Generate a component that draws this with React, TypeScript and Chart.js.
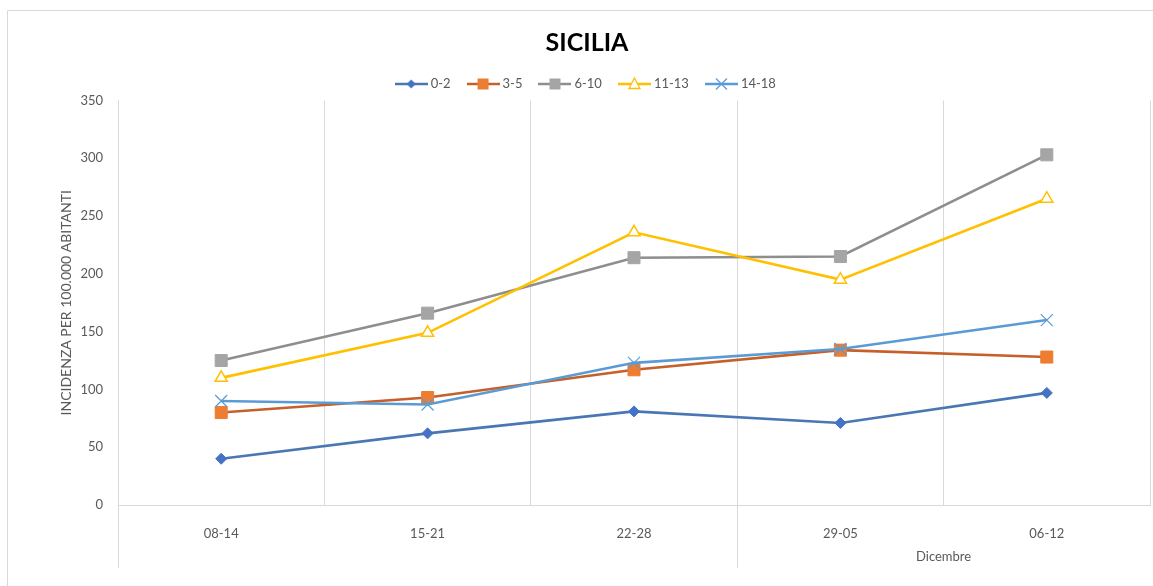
import React, { useEffect, useRef } from 'react';
import { Chart, registerables } from 'chart.js';

Chart.register(...registerables);

// ---- Data ----
const categories = ['08-14', '15-21', '22-28', '29-05', '06-12'];
const groupLabels = ['', 'Dicembre'];
const groupStarts = [0, 3];
const seriesNames = ['0-2', '3-5', '6-10', '11-13', '14-18'];
const age0to2 = [40, 62, 81, 71, 97];
const age3to5 = [80, 93, 117, 134, 128];
const age6to10 = [125, 166, 214, 215, 303];
const age11to13 = [110, 149, 236, 195, 265];
const age14to18 = [90, 87, 123, 135, 160];
const yMin = 0;
const yMax = 350;
const yStep = 50;
const chartTitle = 'SICILIA';
const yTitle = 'INCIDENZA PER 100.000 ABITANTI';

const FONT = 'Lato';
const TEXT = '#595959';
const GRID = '#d9d9d9';

type Marker = 'diamond' | 'square' | 'triangle' | 'cross';

function makeLegendIcon(lineColor: string, marker: Marker, fill: string, stroke: string) {
  const c = document.createElement('canvas');
  c.width = 33;
  c.height = 16;
  const ctx = c.getContext('2d')!;
  const cx = 16.5;
  const cy = 8;
  ctx.strokeStyle = lineColor;
  ctx.lineWidth = 2.5;
  ctx.beginPath();
  ctx.moveTo(0, cy);
  ctx.lineTo(33, cy);
  ctx.stroke();
  ctx.fillStyle = fill;
  ctx.strokeStyle = stroke;
  if (marker === 'diamond') {
    const r = 4.5;
    ctx.beginPath();
    ctx.moveTo(cx - r, cy);
    ctx.lineTo(cx, cy - r);
    ctx.lineTo(cx + r, cy);
    ctx.lineTo(cx, cy + r);
    ctx.closePath();
    ctx.fill();
  } else if (marker === 'square') {
    ctx.fillRect(cx - 5.5, cy - 5.5, 11, 11);
  } else if (marker === 'triangle') {
    ctx.lineWidth = 1.3;
    ctx.beginPath();
    ctx.moveTo(cx, cy - 6);
    ctx.lineTo(cx + 5.5, cy + 4.5);
    ctx.lineTo(cx - 5.5, cy + 4.5);
    ctx.closePath();
    ctx.fillStyle = '#ffffff';
    ctx.fill();
    ctx.stroke();
  } else if (marker === 'cross') {
    ctx.lineWidth = 1.2;
    ctx.beginPath();
    ctx.moveTo(cx - 5.5, cy - 5.5);
    ctx.lineTo(cx + 5.5, cy + 5.5);
    ctx.moveTo(cx + 5.5, cy - 5.5);
    ctx.lineTo(cx - 5.5, cy + 5.5);
    ctx.stroke();
  }
  return c;
}

const framePlugin = {
  id: 'frame',
  beforeDraw(chart: any) {
    const ctx = chart.ctx;
    ctx.save();
    ctx.fillStyle = '#ffffff';
    ctx.fillRect(0, 0, chart.width, chart.height);
    ctx.strokeStyle = GRID;
    ctx.lineWidth = 1;
    ctx.beginPath();
    ctx.moveTo(7.5, chart.height);
    ctx.lineTo(7.5, 10.5);
    ctx.lineTo(chart.width, 10.5);
    ctx.stroke();
    ctx.restore();
  },
  afterDraw(chart: any) {
    const ctx = chart.ctx;
    const xs = chart.scales.x;
    const top = chart.chartArea.bottom;
    const bottom = xs.bottom - 18;
    ctx.save();
    ctx.strokeStyle = GRID;
    ctx.lineWidth = 1;
    groupStarts.forEach((start) => {
      const px = Math.round(xs.getPixelForValue(start - 0.5)) + 0.5;
      ctx.beginPath();
      ctx.moveTo(px, top);
      ctx.lineTo(px, bottom);
      ctx.stroke();
    });
    ctx.fillStyle = TEXT;
    ctx.font = `13px ${FONT}`;
    ctx.textAlign = 'center';
    ctx.textBaseline = 'middle';
    groupLabels.forEach((label, i) => {
      if (!label) return;
      const s = groupStarts[i];
      const e = i + 1 < groupStarts.length ? groupStarts[i + 1] : categories.length;
      const x0 = xs.getPixelForValue(s - 0.5);
      const x1 = xs.getPixelForValue(e - 0.5);
      ctx.fillText(label, (x0 + x1) / 2, bottom - 11);
    });
    ctx.restore();
  },
};

export default function App() {
  const ref = useRef<HTMLCanvasElement>(null);

  useEffect(() => {
    if (!ref.current) return;
    const icons = [
      makeLegendIcon('#4a77b4', 'diamond', '#4472C4', '#4472C4'),
      makeLegendIcon('#c65f28', 'square', '#ED7D31', '#ED7D31'),
      makeLegendIcon('#8e8e8e', 'square', '#A5A5A5', '#A5A5A5'),
      makeLegendIcon('#FFC000', 'triangle', '#ffffff', '#FFC000'),
      makeLegendIcon('#5B9BD5', 'cross', '#5B9BD5', '#5B9BD5'),
    ];
    const chart = new Chart(ref.current, {
      type: 'line',
      data: {
        labels: categories,
        datasets: [
          {
            label: seriesNames[0],
            data: age0to2,
            borderColor: '#4a77b4',
            backgroundColor: '#4472C4',
            borderWidth: 2.6,
            pointStyle: 'rectRot',
            pointRadius: 5.5,
            pointBackgroundColor: '#4472C4',
            pointBorderColor: '#4472C4',
            pointBorderWidth: 1,
            order: 4,
          },
          {
            label: seriesNames[1],
            data: age3to5,
            borderColor: '#c65f28',
            backgroundColor: '#ED7D31',
            borderWidth: 2.6,
            pointStyle: 'rect',
            pointRadius: 8.5,
            pointBackgroundColor: '#ED7D31',
            pointBorderColor: '#ED7D31',
            pointBorderWidth: 1,
            order: 3,
          },
          {
            label: seriesNames[2],
            data: age6to10,
            borderColor: '#8e8e8e',
            backgroundColor: '#A5A5A5',
            borderWidth: 2.6,
            pointStyle: 'rect',
            pointRadius: 8.5,
            pointBackgroundColor: '#A5A5A5',
            pointBorderColor: '#A5A5A5',
            pointBorderWidth: 1,
            order: 2,
          },
          {
            label: seriesNames[3],
            data: age11to13,
            borderColor: '#FFC000',
            backgroundColor: '#ffffff',
            borderWidth: 2.6,
            pointStyle: 'triangle',
            pointRadius: 7,
            pointBackgroundColor: '#ffffff',
            pointBorderColor: '#FFC000',
            pointBorderWidth: 1.5,
            order: 1,
          },
          {
            label: seriesNames[4],
            data: age14to18,
            borderColor: '#5B9BD5',
            backgroundColor: '#5B9BD5',
            borderWidth: 2.6,
            pointStyle: 'crossRot',
            pointRadius: 8.5,
            pointBackgroundColor: '#5B9BD5',
            pointBorderColor: '#5B9BD5',
            pointBorderWidth: 1.2,
            order: 0,
          },
        ],
      },
      options: {
        responsive: false,
        animation: false,
        layout: { autoPadding: false, padding: { left: 24, right: 3, top: 0, bottom: 0 } },
        font: { family: FONT },
        plugins: {
          title: {
            display: true,
            text: chartTitle,
            color: '#000000',
            font: { family: FONT, size: 25, weight: 'bold' },
            padding: { top: 28, bottom: 0 },
          },
          legend: {
            position: 'top',
            labels: {
              usePointStyle: true,
              pointStyleWidth: 26,
              padding: 19.5,
              color: TEXT,
              font: { family: FONT, size: 13 },
              sort: (a: any, b: any) => a.datasetIndex - b.datasetIndex,
              generateLabels: (ch: any) => {
                const items = Chart.defaults.plugins.legend.labels.generateLabels(ch);
                return items.map((it: any) => ({ ...it, pointStyle: icons[it.datasetIndex] }));
              },
            },
          },
          tooltip: { enabled: false },
        },
        scales: {
          x: {
            type: 'category',
            offset: true,
            grid: { offset: true, color: GRID, drawTicks: false, lineWidth: 1 },
            border: { color: GRID },
            ticks: {
              color: TEXT,
              font: { family: FONT, size: 13 },
              padding: 21,
              maxRotation: 0,
              autoSkip: false,
            },
            afterFit: (s: any) => {
              s.height = 81;
              s.paddingLeft = 0;
              s.paddingRight = 0;
            },
          },
          y: {
            min: yMin,
            max: yMax,
            ticks: {
              stepSize: yStep,
              color: TEXT,
              font: { family: FONT, size: 13 },
              padding: 15,
            },
            grid: { display: false, drawTicks: false },
            border: { color: GRID },
            title: {
              display: true,
              text: yTitle,
              color: TEXT,
              font: { family: FONT, size: 14 },
              padding: { top: 34, bottom: 0 },
            },
            afterFit: (s: any) => {
              s.width = 94;
              s.paddingTop = 0;
              s.paddingBottom = 0;
            },
          },
        },
      },
      plugins: [framePlugin],
    });
    return () => chart.destroy();
  }, []);

  return (
    <div style={{ position: 'fixed', left: 0, top: 0, width: 1153, height: 586, background: '#fff' }}>
      <canvas ref={ref} width={1153} height={586} style={{ display: 'block' }} />
    </div>
  );
}
